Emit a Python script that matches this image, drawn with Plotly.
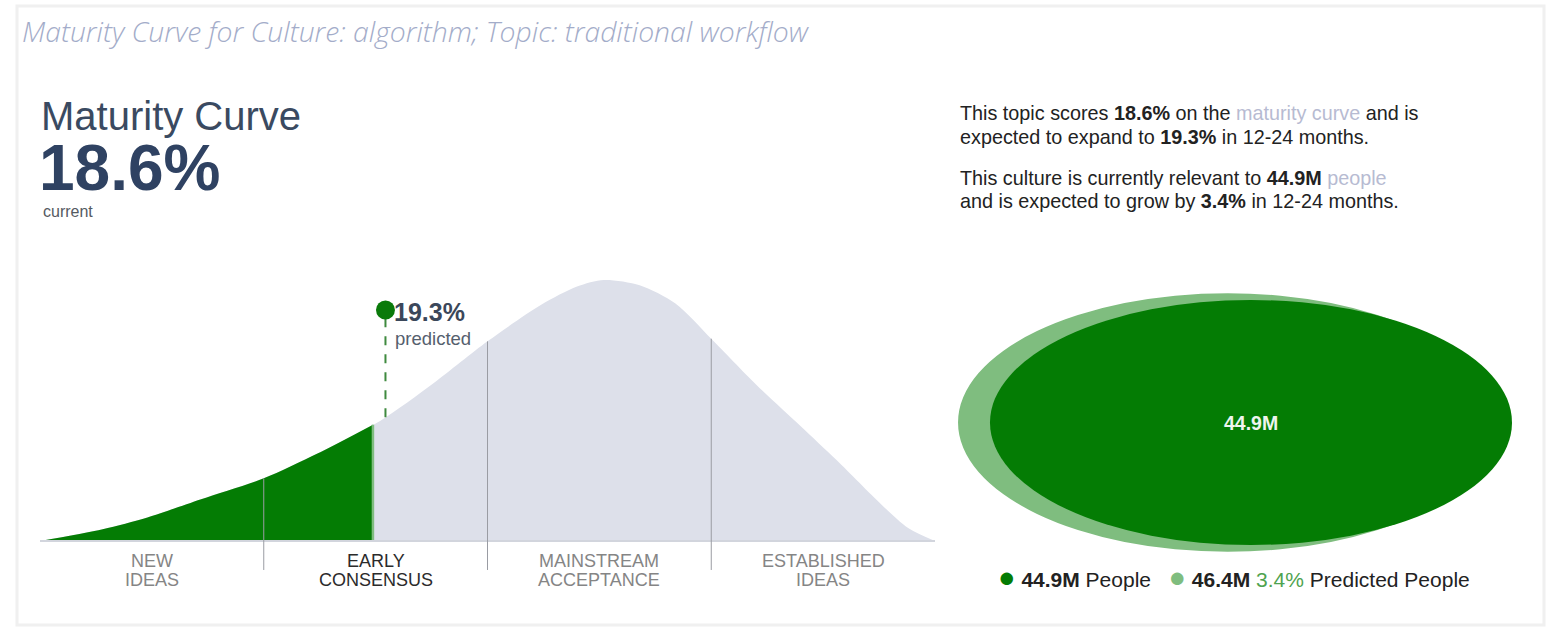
import numpy as np
import plotly.graph_objects as go

# ---- data -------------------------------------------------------------
title_text = "Maturity Curve for Culture: algorithm; Topic: traditional workflow"
stage_labels = [("NEW", "IDEAS"), ("EARLY", "CONSENSUS"), ("MAINSTREAM", "ACCEPTANCE"), ("ESTABLISHED", "IDEAS")]
stage_edges = [0, 12.5, 25, 37.5, 50]          # maturity % at stage boundaries
current_stage = 1

# maturity curve profile (maturity %, relative height)
curve_pct = [0, 3.5, 6, 9, 12.5, 15.5, 19, 22, 25, 28, 30, 31.5, 33.5, 35.5, 37.5, 40, 42.5, 44.5, 47, 48.5, 50]
curve_h = [0, 0.045, 0.09, 0.16, 0.24, 0.335, 0.46, 0.605, 0.765, 0.905, 0.975, 1.0, 0.98, 0.91, 0.775,
           0.60, 0.44, 0.31, 0.14, 0.05, 0]

current_pct = 18.6
predicted_pct = 19.3
people_now = 44.9        # millions
people_pred = 46.4       # millions
growth_pct = 3.4

# ---- page geometry ------------------------------------------------------
W, H = 1555, 630


def px(x):
    return x / W


def py(y):
    return 1 - y / H


DARK_GREEN = "#047c04"
LIGHT_GREEN = "#7fbd7f"
CURVE_GREY = "#dde0ea"
SLATE = "#3a4a61"

fig = go.Figure()

# ---- maturity curve -----------------------------------------------------
cx = np.array(curve_pct, dtype=float)
ch = np.array(curve_h, dtype=float)

fig.add_trace(go.Scatter(
    x=cx, y=ch, mode="lines", line=dict(width=0, shape="spline", smoothing=0.8),
    fill="tozeroy", fillcolor=CURVE_GREY, hoverinfo="skip", showlegend=False,
    xaxis="x", yaxis="y"))

mask = cx < current_pct
gx = np.append(cx[mask], current_pct)
gy = np.append(ch[mask], np.interp(current_pct, cx, ch))
fig.add_trace(go.Scatter(
    x=gx, y=gy, mode="lines", line=dict(width=0, shape="spline", smoothing=0.8),
    fill="tozeroy", fillcolor=DARK_GREEN, hoverinfo="skip", showlegend=False,
    xaxis="x", yaxis="y"))

shapes = []
# light edge at the current position
shapes.append(dict(type="line", xref="x", yref="y", x0=current_pct, x1=current_pct,
                   y0=0, y1=float(np.interp(current_pct, cx, ch)),
                   line=dict(color=LIGHT_GREEN, width=2.5)))
# baseline
shapes.append(dict(type="line", xref="x", yref="y", x0=stage_edges[0], x1=stage_edges[-1],
                   y0=0, y1=0, line=dict(color="#d2d5dd", width=2)))
# stage dividers
for e in stage_edges[1:-1]:
    shapes.append(dict(type="line", xref="x", yref="y", x0=e, x1=e,
                       y0=-0.111, y1=float(np.interp(e, cx, ch)),
                       line=dict(color="#9a9ca3", width=1)))

# predicted marker with dashed stem
marker_h = 0.885
fig.add_trace(go.Scatter(
    x=[predicted_pct, predicted_pct], y=[float(np.interp(predicted_pct, cx, ch)), marker_h],
    mode="lines", line=dict(color="#3f8a3f", width=2, dash="dash"),
    hoverinfo="skip", showlegend=False, xaxis="x", yaxis="y"))
fig.add_trace(go.Scatter(
    x=[predicted_pct], y=[marker_h], mode="markers",
    marker=dict(size=19, color="#0a7a0a"), cliponaxis=False,
    hoverinfo="skip", showlegend=False, xaxis="x", yaxis="y"))

# ---- people bubbles -----------------------------------------------------
pred_offset = -4.0
shapes.append(dict(type="circle", xref="x2", yref="y2",
                   x0=pred_offset - people_pred, x1=pred_offset + people_pred,
                   y0=-people_pred - 1.0, y1=people_pred + 1.0,
                   fillcolor=LIGHT_GREEN, line=dict(width=0), layer="below"))
shapes.append(dict(type="circle", xref="x2", yref="y2",
                   x0=-people_now, x1=people_now, y0=-people_now, y1=people_now,
                   fillcolor=DARK_GREEN, line=dict(width=0), layer="below"))

# panel frame
shapes.append(dict(type="rect", xref="paper", yref="paper",
                   x0=px(17), x1=px(1544), y0=py(625), y1=py(6),
                   line=dict(color="#f0f0f0", width=3), layer="below"))

# ---- text ---------------------------------------------------------------
ann = []
SANS = "Liberation Sans, Arial, sans-serif"


def text(x, y, t, size, color, xanchor="left", yanchor="middle", family=SANS, xref="paper", **kw):
    ann.append(dict(x=x, y=y, xref=xref, yref="paper", text=t, showarrow=False,
                    xanchor=xanchor, yanchor=yanchor, align="left",
                    font=dict(size=size, color=color, family=family), **kw))


ann.append(dict(x=px(20), y=py(31), xref="paper", yref="paper", text=title_text,
                showarrow=False, xanchor="left", yanchor="middle",
                font=dict(size=28.3, color="#a3acc9", family="Open Sans", style="italic", weight=300)))

text(px(39), py(115.5), "Maturity Curve", 40, SLATE)
text(px(37), py(168.5), f"<b>{current_pct}%</b>", 64, "#2f4262")
text(px(41), py(211.5), "current", 16, "#555a62")

# predicted label next to marker
text(predicted_pct, py(312), f"<b>{predicted_pct}%</b>", 25, "#3b475a", xref="x", xshift=7)
text(predicted_pct, py(338), "predicted", 18.5, "#55606e", xref="x", xshift=8)

# stage labels
for i, (l1, l2) in enumerate(stage_labels):
    mid = (stage_edges[i] + stage_edges[i + 1]) / 2
    col = "#2b2b2b" if i == current_stage else "#858585"
    for line, yy in ((l1, 561), (l2, 580)):
        text(mid, py(yy), line, 18, col, xanchor="center", xref="x")

# summary sentences
MUTED = "#b7bbd2"
BODY = 19.8
text(px(958), py(113),
     f"This topic scores <b>{current_pct}%</b> on the <span style='color:{MUTED}'>maturity curve</span> and is",
     BODY, "#222222")
text(px(958), py(137), f"expected to expand to <b>{predicted_pct}%</b> in 12-24 months.", BODY, "#222222")
text(px(958), py(178),
     f"This culture is currently relevant to <b>{people_now}M</b> <span style='color:{MUTED}'>people</span>",
     BODY, "#222222")
text(px(958), py(201), f"and is expected to grow by <b>{growth_pct}%</b> in 12-24 months.", BODY, "#222222")

# bubble value
ann.append(dict(x=0, y=0, xref="x2", yref="y2", text=f"<b>{people_now}M</b>", showarrow=False,
                font=dict(size=19.5, color="#eef5ee", family=SANS)))

# legend line
text(px(996), py(577),
     f"<span style='color:{DARK_GREEN};font-size:29px'>●</span> <b>{people_now}M</b> People   "
     f"<span style='color:{LIGHT_GREEN};font-size:29px'>●</span> <b>{people_pred}M</b> "
     f"<span style='color:#4fa34f'>{growth_pct}%</span> Predicted People",
     21, "#222222")

# ---- axes ---------------------------------------------------------------
curve_px0, curve_px1 = 40, 935
base_py, peak_py = 541, 280
unit = base_py - peak_py
y_lo, y_hi = -0.12, 1.2

bub_cx, bub_cy = 1251, 422.5
sx = 261 / people_now      # px per unit horizontally
sy = 122.5 / people_now    # px per unit vertically
x2_lo, x2_hi = -55, 50
y2_lo, y2_hi = -55, 55

hidden = dict(visible=False, showgrid=False, zeroline=False, fixedrange=True)

fig.update_layout(
    width=W, height=H, margin=dict(l=0, r=0, t=0, b=0),
    paper_bgcolor="white", plot_bgcolor="rgba(0,0,0,0)",
    showlegend=False,
    xaxis=dict(domain=[px(curve_px0), px(curve_px1)], range=[stage_edges[0], stage_edges[-1]], **hidden),
    yaxis=dict(domain=[py(base_py - y_lo * unit), py(base_py - y_hi * unit)], range=[y_lo, y_hi], **hidden),
    xaxis2=dict(domain=[px(bub_cx + x2_lo * sx), px(bub_cx + x2_hi * sx)], range=[x2_lo, x2_hi],
                anchor="y2", **hidden),
    yaxis2=dict(domain=[py(bub_cy - y2_lo * sy), py(bub_cy - y2_hi * sy)], range=[y2_lo, y2_hi],
                anchor="x2", **hidden),
    shapes=shapes,
    annotations=ann,
)

fig.write_html("out.html")
